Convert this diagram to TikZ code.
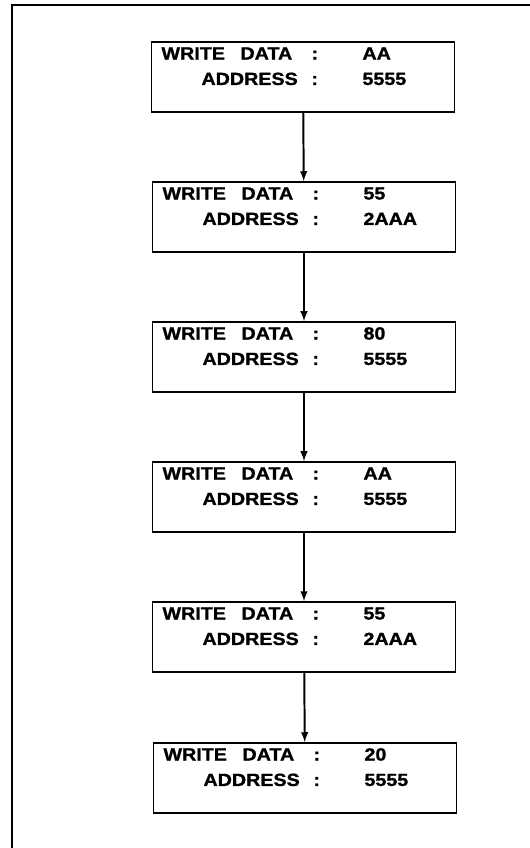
\documentclass[tikz,border=0pt]{standalone}
\usepackage{fontspec}
\newfontfamily\boxfont[FakeStretch=1.12,FakeBold=1.2]{Liberation Sans}
\usetikzlibrary{arrows,positioning}

\newlength\px
\setlength\px{0.025cm}
% text of one write step
\newcommand\wrbox[2]{\parbox[c][70\px][t]{303\px}{\boxfont\bfseries\fontsize{12.5}{18.1}\selectfont
\rule{0pt}{17.5\px}\hspace*{10\px}\rlap{WRITE}\hspace*{79\px}\rlap{DATA}\hspace*{71\px}\rlap{:}\hspace*{51\px}#1\\
\hspace*{50\px}\rlap{ADDRESS}\hspace*{110\px}\rlap{:}\hspace*{51\px}#2}}

\begin{document}
\begin{tikzpicture}[x=0.025cm,y=-0.025cm,stepbox/.style={draw,line width=1.3pt,inner sep=0pt},flow/.style={-latex,line width=1.4pt}]
  \useasboundingbox (0,0) rectangle (530,848);
  \draw[line width=1.9pt] (12,848) -- (12,5) -- (530,5);

  \node[stepbox] (s1) at (303,77) {\wrbox{AA}{5555}};
  \node[stepbox] (s2) at (304,217) {\wrbox{55}{2AAA}};
  \node[stepbox] (s3) at (304,357) {\wrbox{80}{5555}};
  \node[stepbox] (s4) at (304,497) {\wrbox{AA}{5555}};
  \node[stepbox] (s5) at (304,637) {\wrbox{55}{2AAA}};
  \node[stepbox] (s6) at (305,778) {\wrbox{20}{5555}};

  \draw[flow] (s1) -- (s2);
  \draw[flow] (s2) -- (s3);
  \draw[flow] (s3) -- (s4);
  \draw[flow] (s4) -- (s5);
  \draw[flow] (s5) -- (s6);
\end{tikzpicture}
\end{document}
